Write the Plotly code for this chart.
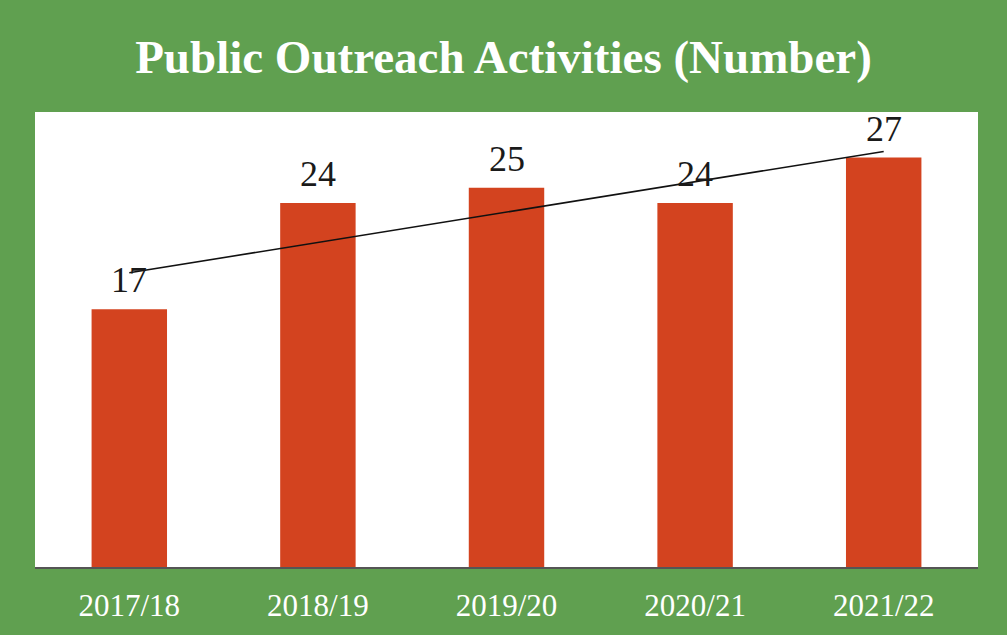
import numpy as np
import plotly.graph_objects as go

categories = ["2017/18", "2018/19", "2019/20", "2020/21", "2021/22"]
values = [17, 24, 25, 24, 27]
title_text = "Public Outreach Activities (Number)"

# linear trendline fitted to the data
idx = np.arange(len(values))
slope, intercept = np.polyfit(idx, values, 1)
trend_x = [categories[0], categories[-1]]
trend_y = [intercept, intercept + slope * idx[-1]]

fig = go.Figure()
fig.add_trace(go.Bar(
    x=categories, y=values,
    marker=dict(color="#d3431f", line=dict(width=0)),
    width=0.4, hoverinfo="x+y",
))
fig.add_trace(go.Scatter(
    x=trend_x, y=trend_y, mode="lines",
    line=dict(color="#111111", width=1.6), hoverinfo="skip",
))
for c, v in zip(categories, values):
    fig.add_annotation(x=c, y=v, text=str(v), showarrow=False,
                       yanchor="bottom", yshift=7,
                       font=dict(family="Liberation Serif", size=36, color="#1a1a1a"))
fig.update_layout(
    width=1007, height=635,
    margin=dict(l=35, r=29, t=112, b=68),
    paper_bgcolor="#60a050", plot_bgcolor="#ffffff",
    showlegend=False,
    title=dict(text="<b>" + title_text + "</b>", x=0.5, xanchor="center",
               y=1 - 57 / 635, yanchor="middle",
               font=dict(family="Liberation Serif", size=47, color="#ffffff")),
    xaxis=dict(showgrid=False, showline=True, linecolor="#555555", linewidth=1.5,
               ticks="", ticklabelstandoff=10, automargin=False,
               tickfont=dict(family="Liberation Serif", size=31, color="#ffffff")),
    yaxis=dict(range=[0, 30], showgrid=False, showticklabels=False,
               zeroline=False, showline=False, automargin=False),
)
fig.write_html("out.html", config={"displayModeBar": False},
               post_script="document.body.style.margin='0';")
